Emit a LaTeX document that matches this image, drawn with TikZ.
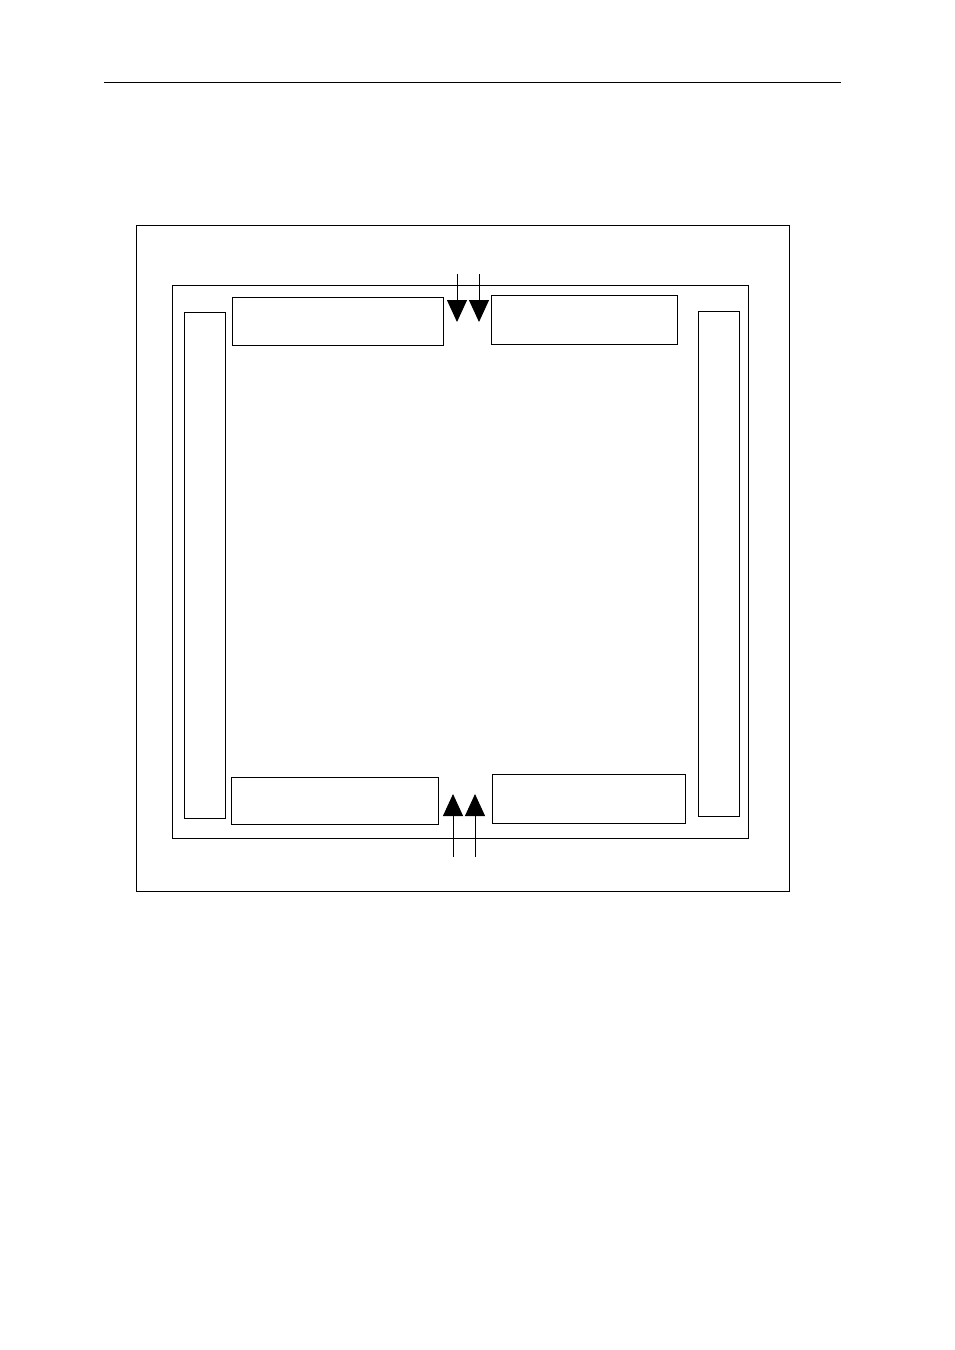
\documentclass[tikz,border=0pt]{standalone}
\usetikzlibrary{arrows.meta}
\begin{document}
\begin{tikzpicture}[x=1pt,y=-1pt,
  box/.style={draw, line width=0.9pt, inner sep=0pt, outer sep=0pt, anchor=north west},
  arr/.style={line width=0.9pt, -{Triangle[width=20pt,length=22pt]}}]
\useasboundingbox (0,0) rectangle (954,1350);
\coordinate (hl) at (104,82);
\coordinate (hr) at (841,82);
\draw[line width=0.9pt] (hl) -- (hr);
\node[box, minimum width=653pt, minimum height=666pt] (outer) at (136,225) {};
\node[box, minimum width=576pt, minimum height=553pt] (inner) at (172,285) {};
\node[box, minimum width=41pt, minimum height=506pt] (lbar) at (184,312) {};
\node[box, minimum width=41pt, minimum height=505pt] (rbar) at (698,311) {};
\node[box, minimum width=211pt, minimum height=48pt] (tl) at (232,297) {};
\node[box, minimum width=186pt, minimum height=49pt] (tr) at (491,295) {};
\node[box, minimum width=207pt, minimum height=47pt] (bl) at (231,777) {};
\node[box, minimum width=193pt, minimum height=49pt] (br) at (492,774) {};
\coordinate (a1s) at (457,274); \coordinate (a1e) at (457,322);
\coordinate (a2s) at (479,274); \coordinate (a2e) at (479,322);
\coordinate (b1s) at (453,857); \coordinate (b1e) at (453,794);
\coordinate (b2s) at (475,857); \coordinate (b2e) at (475,794);
\draw[arr] (a1s) -- (a1e);
\draw[arr] (a2s) -- (a2e);
\draw[arr] (b1s) -- (b1e);
\draw[arr] (b2s) -- (b2e);
\end{tikzpicture}
\end{document}
